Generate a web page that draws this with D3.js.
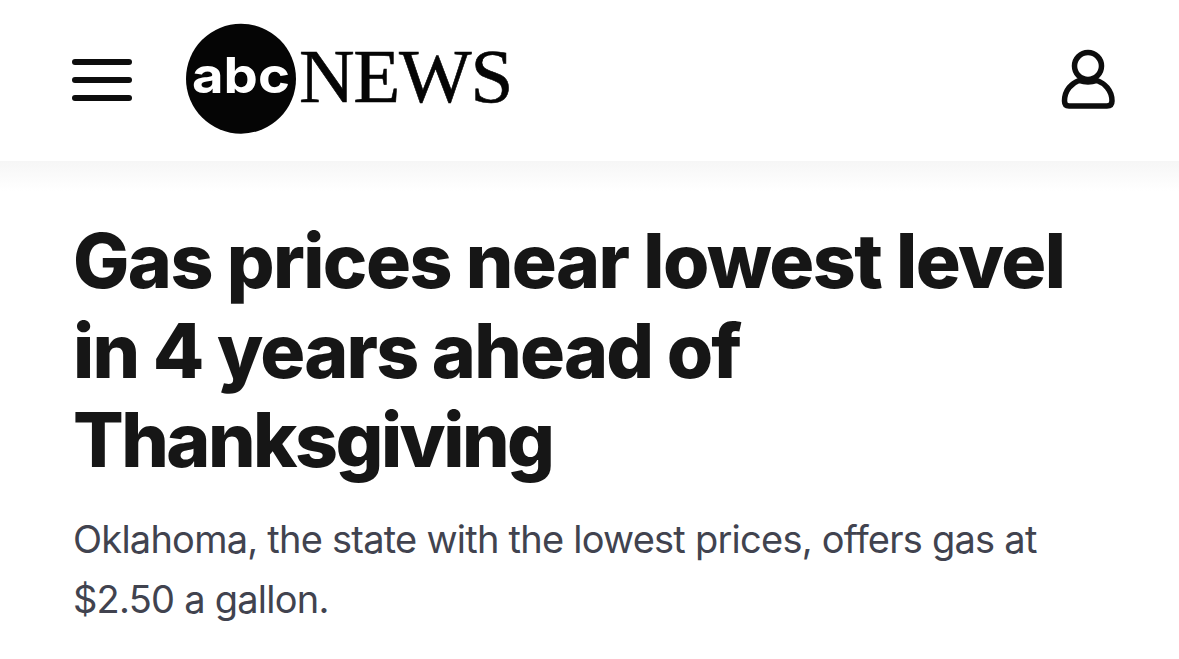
<!DOCTYPE html>
<html><head><meta charset="utf-8">
<script src="https://cdn.jsdelivr.net/npm/d3@7"></script>
<style>html,body{margin:0;padding:0;background:#fff;overflow:hidden}</style>
</head><body><svg id="c"></svg>
<script>
const brandMark = ["abc"];
const brandName = ["NEWS"];
const headlineLines = ["Gas prices near lowest level","in 4 years ahead of","Thanksgiving"];
const deckLines = ["Oklahoma, the state with the lowest prices, offers gas at","$2.50 a gallon."];
const menuBars = [0,1,2];
const headlineFit = [993,669,482];

const svg = d3.select("#c").attr("width",1179).attr("height",659).style("display","block");
const defs = svg.append("defs");
const g = defs.append("linearGradient").attr("id","sh").attr("x1",0).attr("x2",0).attr("y1",0).attr("y2",1);
g.append("stop").attr("offset",0).attr("stop-color","#f6f6f6");
g.append("stop").attr("offset",1).attr("stop-color","#ffffff");
svg.append("rect").attr("x",0).attr("y",161).attr("width",1179).attr("height",30).attr("fill","url(#sh)");

const barY = d3.scalePoint().domain(menuBars).range([62,98]);
svg.selectAll("rect.m").data(menuBars).join("rect").attr("class","m")
 .attr("x",72).attr("width",60).attr("height",6).attr("rx",3)
 .attr("y",d=>barY(d)-3).attr("fill","#0d0d0d");

svg.append("circle").attr("cx",241).attr("cy",78.7).attr("r",55).attr("fill","#050505");
svg.append("text").data(brandMark).attr("x",192).attr("y",93)
 .attr("font-family","Inter").attr("font-weight",700).attr("font-size",50)
 .attr("textLength",98).attr("lengthAdjust","spacingAndGlyphs")
 .attr("fill","#fff").text(d=>d);
svg.append("text").data(brandName).attr("x",299).attr("y",102)
 .attr("font-family","Liberation Serif").attr("font-size",77).attr("letter-spacing",-1.3)
 .attr("fill","#050505").attr("stroke","#050505").attr("stroke-width",0.6).text(d=>d);

const u = svg.append("g").attr("fill","none").attr("stroke","#0d0d0d").attr("stroke-width",5.5).attr("stroke-linejoin","round");
u.append("circle").attr("cx",1088).attr("cy",66).attr("r",13.5);
u.append("path").attr("d","M1064.5 101 C1064.5 90 1072 83 1079 80.5 Q1088 83.5 1097 80.5 C1104 83 1112 90 1112 101 Q1112 106 1107 106 H1069 Q1064.5 106 1064.5 101 Z");

const hy = d3.scalePoint().domain(d3.range(headlineLines.length)).range([288,467]);
svg.selectAll("text.h").data(headlineLines).join("text").attr("class","h")
 .attr("x",73).attr("y",(d,i)=>hy(i))
 .attr("font-family","Inter").attr("font-weight",800).attr("font-size",75)
 .attr("textLength",(d,i)=>headlineFit[i]).attr("lengthAdjust","spacing")
 .attr("fill","#161616").text(d=>d);

const dy = d3.scalePoint().domain(d3.range(deckLines.length)).range([553,613]);
svg.selectAll("text.d").data(deckLines).join("text").attr("class","d")
 .attr("x",73).attr("y",(d,i)=>dy(i))
 .attr("font-family","Inter").attr("font-weight",400).attr("font-size",38).attr("letter-spacing",-0.76)
 .attr("fill","#41434f").text(d=>d);
</script></body></html>
